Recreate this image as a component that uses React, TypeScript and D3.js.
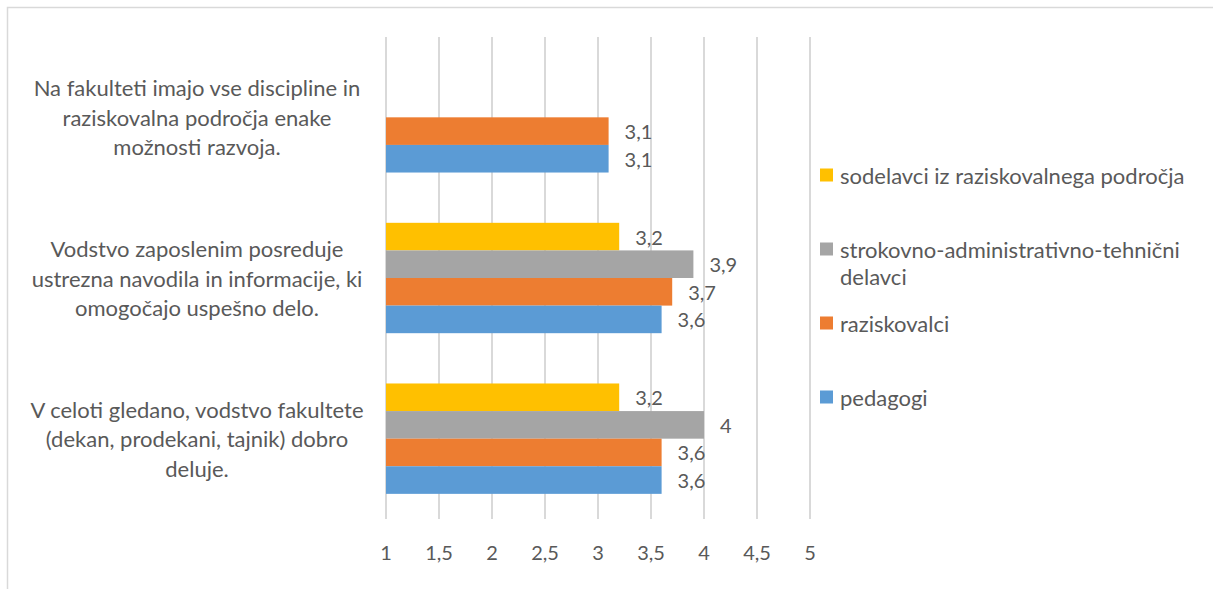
import React from "react";
import * as d3 from "d3";

const categories: string[][] = [
  ["Na fakulteti imajo vse discipline in", "raziskovalna področja enake", "možnosti razvoja."],
  ["Vodstvo zaposlenim posreduje", "ustrezna navodila in informacije, ki", "omogočajo uspešno delo."],
  ["V celoti gledano, vodstvo fakultete", "(dekan, prodekani, tajnik) dobro", "deluje."],
];
const seriesNames: string[][] = [
  ["sodelavci iz raziskovalnega področja"],
  ["strokovno-administrativno-tehnični", "delavci"],
  ["raziskovalci"],
  ["pedagogi"],
];
const seriesColors = ["#FFC000", "#A5A5A5", "#ED7D31", "#5B9BD5"];
const sodelavci: (number | null)[] = [null, 3.2, 3.2];
const strokovni: (number | null)[] = [null, 3.9, 4];
const raziskovalci: (number | null)[] = [3.1, 3.7, 3.6];
const pedagogi: (number | null)[] = [3.1, 3.6, 3.6];
const seriesValues = [sodelavci, strokovni, raziskovalci, pedagogi];
const xTicks = [1, 1.5, 2, 2.5, 3, 3.5, 4, 4.5, 5];

const W = 1213;
const H = 589;
const FONT = "Lato, 'Open Sans', sans-serif";
const TXT = "#595959";

const fmt = (v: number) => String(v).replace(".", ",");

export default function App() {
  const x = d3.scaleLinear().domain([1, 5]).range([386, 810]);
  const y = d3
    .scaleBand<number>()
    .domain(categories.map((_, i) => i))
    .range([37, 519])
    .paddingInner(0.313)
    .paddingOuter(0.1565);
  const inner = d3
    .scaleBand<number>()
    .domain(seriesValues.map((_, i) => i))
    .range([0, y.bandwidth()]);

  return (
    <svg
      width={W}
      height={H}
      style={{ position: "absolute", left: 0, top: 0, background: "#fff" }}
      fontFamily={FONT}
    >
      <rect x={7.5} y={7.5} width={W + 10} height={H + 10} fill="#fff" stroke="#D9D9D9" strokeWidth={1.5} />
      {xTicks.map((t) => (
        <line key={t} x1={x(t)} x2={x(t)} y1={37} y2={519} stroke="#D9D9D9" strokeWidth={2} />
      ))}
      {xTicks.map((t) => (
        <text key={"t" + t} x={x(t)} y={552} textAnchor="middle" dominantBaseline="central" fontSize={20} fill={TXT}>
          {fmt(t)}
        </text>
      ))}
      {categories.map((lines, ci) => {
        const cy = (y(ci) as number) + y.bandwidth() / 2;
        return (
          <text key={"c" + ci} x={197} textAnchor="middle" fontSize={22} fill={TXT}>
            {lines.map((l, li) => (
              <tspan key={li} x={197} y={cy + (li - (lines.length - 1) / 2) * 29.5} dominantBaseline="central">
                {l}
              </tspan>
            ))}
          </text>
        );
      })}
      {seriesValues.map((vals, si) =>
        vals.map((v, ci) => {
          if (v == null) return null;
          const by = (y(ci) as number) + (inner(si) as number);
          const bh = inner.bandwidth();
          return (
            <g key={si + "-" + ci}>
              <rect x={x(1)} y={by} width={x(v) - x(1)} height={bh} fill={seriesColors[si]} />
              <text x={x(v) + 16} y={by + bh / 2} dominantBaseline="central" fontSize={20} fill={TXT}>
                {fmt(v)}
              </text>
            </g>
          );
        })
      )}
      {seriesNames.map((lines, si) => {
        const ly = 175 + si * 74;
        return (
          <g key={"l" + si}>
            <rect x={820} y={ly - 6.5} width={13} height={13} fill={seriesColors[si]} />
            <text fontSize={22} fill={TXT}>
              {lines.map((l, li) => (
                <tspan key={li} x={840} y={ly + li * 27} dominantBaseline="central">
                  {l}
                </tspan>
              ))}
            </text>
          </g>
        );
      })}
    </svg>
  );
}
